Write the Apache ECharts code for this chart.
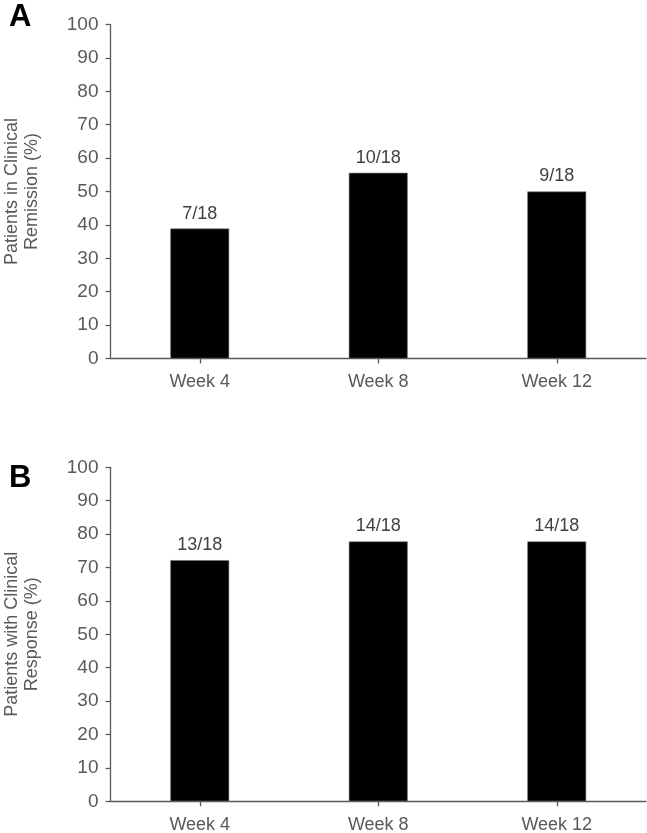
<!DOCTYPE html>
<html>
<head>
<meta charset="utf-8">
<script src="https://cdn.jsdelivr.net/npm/echarts@6/dist/echarts.min.js"></script>
<style>
html,body{margin:0;padding:0;background:#fff;}
#chart{width:647px;height:833px;}
</style>
</head>
<body>
<div id="chart"></div>
<script>
var categories = ['Week 4', 'Week 8', 'Week 12'];
var remissionValues = [38.9, 55.6, 50.0];
var remissionLabels = ['7/18', '10/18', '9/18'];
var responseValues = [72.2, 77.8, 77.8];
var responseLabels = ['13/18', '14/18', '14/18'];
var yTicks = [0, 10, 20, 30, 40, 50, 60, 70, 80, 90, 100];

var FONT = 'Liberation Sans, Arial, sans-serif';
var axisColor = '#595959';
var textColor = '#595959';

function xAxis(idx) {
  return {
    type: 'category', gridIndex: idx, data: categories,
    axisLine: {show: true, lineStyle: {color: axisColor, width: 1.3}},
    axisTick: {show: true, alignWithLabel: true, length: 5, lineStyle: {color: axisColor, width: 1.3}},
    axisLabel: {color: textColor, fontSize: 18, fontFamily: FONT, margin: 15}
  };
}
function yAxis(idx, name) {
  return {
    type: 'value', gridIndex: idx, min: yTicks[0], max: yTicks[yTicks.length - 1], interval: 10,
    name: name, nameLocation: 'middle', nameGap: 68, nameRotate: 90,
    nameTextStyle: {color: textColor, fontSize: 18, fontFamily: FONT, lineHeight: 20},
    axisLine: {show: true, lineStyle: {color: axisColor, width: 1.3}},
    axisTick: {show: true, length: 5, lineStyle: {color: axisColor, width: 1.3}},
    splitLine: {show: false},
    axisLabel: {color: textColor, fontSize: 19, fontFamily: FONT, margin: 12}
  };
}
function barSeries(idx, vals, labels) {
  return {
    type: 'bar', xAxisIndex: idx, yAxisIndex: idx, data: vals,
    barWidth: '33%',
    itemStyle: {color: '#000', borderColor: '#777', borderWidth: 0.6},
    label: {
      show: true, position: 'top', distance: 6,
      color: '#404040', fontSize: 18, fontFamily: FONT,
      formatter: function (p) { return labels[p.dataIndex]; }
    },
    silent: true
  };
}

var chart = echarts.init(document.getElementById('chart'), null, {renderer: 'canvas'});
chart.setOption({
  animation: false,
  backgroundColor: '#fff',
  grid: [
    {left: 110.5, top: 24.5, width: 535.5, height: 334, containLabel: false, outerBoundsMode: 'none'},
    {left: 110.5, top: 467.3, width: 535.5, height: 334, containLabel: false, outerBoundsMode: 'none'}
  ],
  xAxis: [xAxis(0), xAxis(1)],
  yAxis: [
    yAxis(0, 'Patients in Clinical\nRemission (%)'),
    yAxis(1, 'Patients with Clinical\nResponse (%)')
  ],
  graphic: [
    {type: 'text', left: 9, top: 2, style: {text: 'A', fontSize: 31, fontWeight: 'bold', fontFamily: FONT, fill: '#000'}},
    {type: 'text', left: 9, top: 463, style: {text: 'B', fontSize: 31, fontWeight: 'bold', fontFamily: FONT, fill: '#000'}}
  ],
  series: [
    barSeries(0, remissionValues, remissionLabels),
    barSeries(1, responseValues, responseLabels)
  ]
});
</script>
</body>
</html>
